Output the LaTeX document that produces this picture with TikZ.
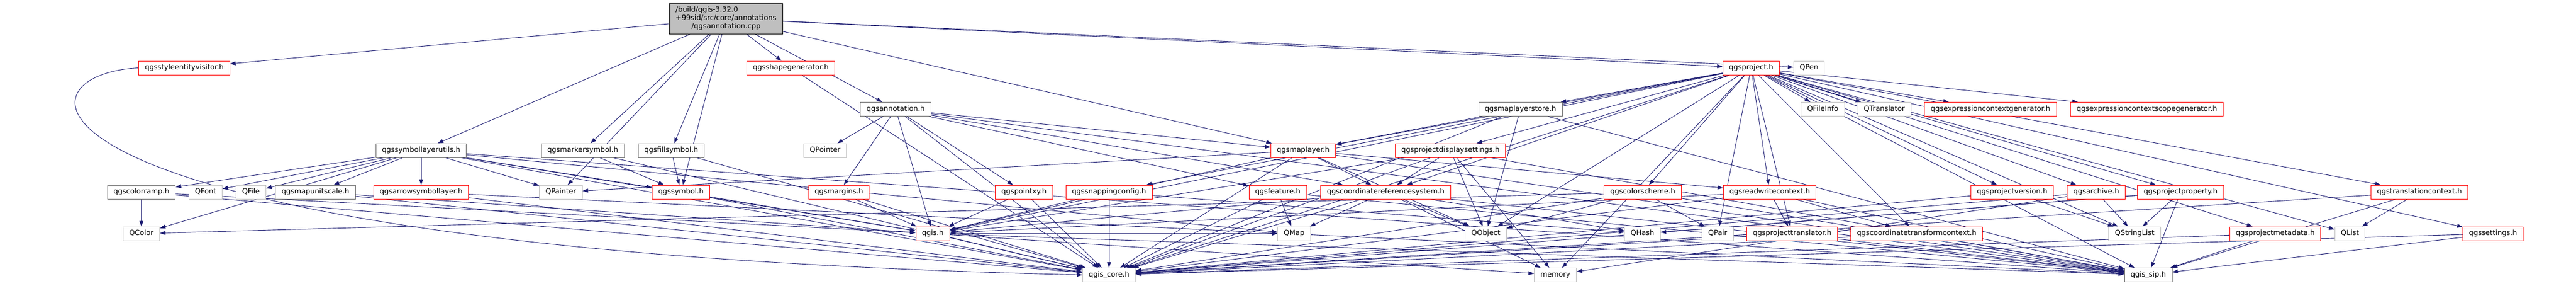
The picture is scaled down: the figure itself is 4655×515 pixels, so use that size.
\documentclass[tikz,border=0pt]{standalone}
\usepackage{fontspec}
\setmainfont{DejaVu Sans}
\usetikzlibrary{arrows.meta,backgrounds}
\definecolor{depblue}{HTML}{191970}
\definecolor{boxgrey}{HTML}{666666}
\definecolor{extgrey}{HTML}{BFBFBF}
\definecolor{truncred}{HTML}{FF0000}

\begin{document}
\begin{tikzpicture}[x=1pt, y=-1pt,
		every node/.style={font=\fontsize{12.9}{15}\selectfont},
		box/.style={rectangle, fill=white, line width=1pt, inner xsep=11pt, inner ysep=0pt, minimum height=25pt, text height=9.6pt, text depth=3pt},
		hdr/.style={box, draw=boxgrey},
		trunc/.style={box, draw=truncred},
		sys/.style={box, draw=extgrey},
		rootbox/.style={rectangle, draw=black, fill=extgrey, line width=1pt, inner xsep=11pt, inner ysep=4pt, minimum height=55pt},
		dep/.style={draw=depblue, line width=0.9pt, -{Triangle[length=10pt, width=7pt]}}]
	\useasboundingbox (0, 0) rectangle (4655, 515);
	
	\node[rootbox] (root) at (1312, 33.5) {\begin{tabular}{@{}l@{}}/build/qgis-3.32.0\\+99sid/src/core/annotations\\\multicolumn{1}{@{}c@{}}{/qgsannotation.cpp}\end{tabular}};
	
	% row 1
	\node[trunc] (sev) at (333, 122.5) {qgsstyleentityvisitor.h};
	\node[trunc] (shape) at (1429, 122.5) {qgsshapegenerator.h};
	\node[trunc] (proj) at (3164.5, 122.5) {qgsproject.h};
	\node[sys] (qpen) at (3269, 122.5) {QPen};
	
	% row 2
	\node[hdr] (annot) at (1618.5, 197) {qgsannotation.h};
	\node[hdr] (mlstore) at (2747.5, 197) {qgsmaplayerstore.h};
	\node[sys] (qfinfo) at (3294, 197) {QFileInfo};
	\node[sys] (qtrans) at (3405, 197) {QTranslator};
	\node[trunc] (ecg) at (3597, 197) {qgsexpressioncontextgenerator.h};
	\node[trunc] (ecsg) at (3879.5, 197) {qgsexpressioncontextscopegenerator.h};
	
	% row 3
	\node[hdr] (sutil) at (761, 271.5) {qgssymbollayerutils.h};
	\node[hdr] (msym) at (1053, 271.5) {qgsmarkersymbol.h};
	\node[hdr] (fsym) at (1213, 271.5) {qgsfillsymbol.h};
	\node[sys] (qptr) at (1491, 271.5) {QPointer};
	\node[trunc] (maplayer) at (2355, 271.5) {qgsmaplayer.h};
	\node[trunc] (pds) at (2621, 271.5) {qgsprojectdisplaysettings.h};
	
	% row 4
	\node[hdr] (cramp) at (255.5, 346.5) {qgscolorramp.h};
	\node[sys] (qfont) at (371.5, 346.5) {QFont};
	\node[sys] (qfile) at (453.5, 346.5) {QFile};
	\node[hdr] (mus) at (570, 346.5) {qgsmapunitscale.h};
	\node[trunc] (arrowsl) at (761, 346.5) {qgsarrowsymbollayer.h};
	\node[sys] (qpainter) at (1013.5, 346.5) {QPainter};
	\node[trunc] (symbol) at (1230.5, 346.5) {qgssymbol.h};
	\node[trunc] (margins) at (1516, 346.5) {qgsmargins.h};
	\node[trunc] (pointxy) at (1850.5, 346.5) {qgspointxy.h};
	\node[trunc] (snapcfg) at (2004, 346.5) {qgssnappingconfig.h};
	\node[trunc] (feature) at (2309, 346.5) {qgsfeature.h};
	\node[trunc] (crs) at (2504, 346.5) {qgscoordinatereferencesystem.h};
	\node[trunc] (cscheme) at (2968.5, 346.5) {qgscolorscheme.h};
	\node[trunc] (rwctx) at (3198, 346.5) {qgsreadwritecontext.h};
	\node[trunc] (pver) at (3636, 346.5) {qgsprojectversion.h};
	\node[trunc] (archive) at (3788, 346.5) {qgsarchive.h};
	\node[trunc] (pprop) at (3940.5, 346.5) {qgsprojectproperty.h};
	\node[trunc] (tctx) at (4372, 346.5) {qgstranslationcontext.h};
	
	% row 5
	\node[sys] (qcolor) at (255.5, 421.5) {QColor};
	\node[trunc] (qgish) at (1685.5, 421.5) {qgis.h};
	\node[sys] (qmap) at (2338.5, 421.5) {QMap};
	\node[sys] (qobject) at (2685, 421.5) {QObject};
	\node[sys] (qhash) at (2968, 421.5) {QHash};
	\node[sys] (qpair) at (3104, 421.5) {QPair};
	\node[trunc] (ptrans) at (3238.5, 421.5) {qgsprojecttranslator.h};
	\node[trunc] (ctctx) at (3463.5, 421.5) {qgscoordinatetransformcontext.h};
	\node[sys] (qstrl) at (3857.5, 421.5) {QStringList};
	\node[trunc] (pmeta) at (4111.5, 421.5) {qgsprojectmetadata.h};
	\node[sys] (qlist) at (4246.5, 421.5) {QList};
	\node[trunc] (settings) at (4505, 421.5) {qgssettings.h};
	
	% row 6
	\node[sys] (qgiscore) at (2004, 496) {qgis\_core.h};
	\node[sys] (memory) at (2810.5, 496) {memory};
	\node[hdr] (qgissip) at (3882, 496) {qgis\_sip.h};
	
	\begin{scope}[on background layer]
		\foreach \t in {sev, shape, annot, sutil, msym, fsym, symbol, qpainter, maplayer, proj, qpen} \draw[dep] (root) -- (\t);
		\draw[dep] (sev.west) .. controls (0, 135) and (0, 450) .. (qgiscore.west);
		\draw[dep] (shape) -- (qgiscore);
		\foreach \t in {qgish, pointxy, feature, crs, maplayer, qptr, margins, qgiscore, qgissip} \draw[dep] (annot) -- (\t);
		\foreach \t in {cramp, qfont, qfile, mus, arrowsl, qcolor, qpainter, symbol, qgish, qmap, qgiscore, qgissip} \draw[dep] (sutil) -- (\t);
		\foreach \t in {qgiscore, symbol} \draw[dep] (msym) -- (\t);
		\foreach \t in {qgiscore, symbol} \draw[dep] (fsym) -- (\t);
		\foreach \t in {qgiscore, qgish} \draw[dep] (symbol) -- (\t);
		\foreach \t in {qgiscore, qgish} \draw[dep] (margins) -- (\t);
		\foreach \t in {qcolor, qgiscore, qgish} \draw[dep] (cramp) -- (\t);
		\foreach \t in {qgiscore, qgish} \draw[dep] (mus) -- (\t);
		\foreach \t in {qgiscore, qgissip} \draw[dep] (arrowsl) -- (\t);
		\foreach \t in {qgiscore, qgissip, qgish, qobject, qpainter, crs, rwctx} \draw[dep] (maplayer) -- (\t);
		\foreach \t in {maplayer, qobject, qgiscore, qgissip} \draw[dep] (mlstore) -- (\t);
		\foreach \t in {crs, qobject, memory, qgiscore, qgissip, qgish} \draw[dep] (pds) -- (\t);
		\foreach \t in {qfinfo, qtrans, ecg, ecsg, mlstore, pds, maplayer, snapcfg, crs, cscheme, rwctx, pver, archive, pprop, tctx, ptrans, ctctx, pmeta, settings, qlist, qstrl, qobject, qpair, qgish, qgiscore, qgissip, memory} \draw[dep] (proj) -- (\t);
		\foreach \t in {qgish, qgiscore} \draw[dep] (pointxy) -- (\t);
		\foreach \t in {qgish, qgiscore, qhash} \draw[dep] (snapcfg) -- (\t);
		\foreach \t in {qmap, qgiscore, qgissip} \draw[dep] (feature) -- (\t);
		\foreach \t in {qgiscore, qgissip, qgish, qmap, memory, qobject, qhash} \draw[dep] (crs) -- (\t);
		\foreach \t in {qcolor, qobject, qgiscore, qgissip, qpair} \draw[dep] (cscheme) -- (\t);
		\foreach \t in {ptrans, ctctx, qgiscore, qgissip, qgish} \draw[dep] (rwctx) -- (\t);
		\foreach \t in {qgiscore, qgissip} \draw[dep] (ptrans) -- (\t);
		\foreach \t in {qgiscore, qgissip} \draw[dep] (ctctx) -- (\t);
		\foreach \t in {qgiscore, qstrl} \draw[dep] (pver) -- (\t);
		\foreach \t in {qstrl, qgiscore, memory} \draw[dep] (archive) -- (\t);
		\foreach \t in {qstrl, qhash, qgiscore, qgissip} \draw[dep] (pprop) -- (\t);
		\foreach \t in {qgiscore, qgissip} \draw[dep] (pmeta) -- (\t);
		\foreach \t in {qlist, qgiscore, qgissip} \draw[dep] (tctx) -- (\t);
		\foreach \t in {qgiscore, qgissip} \draw[dep] (settings) -- (\t);
		\foreach \t in {qmap, qgiscore, qgissip, memory} \draw[dep] (qgish) -- (\t);
	\end{scope}
\end{tikzpicture}
\end{document}
